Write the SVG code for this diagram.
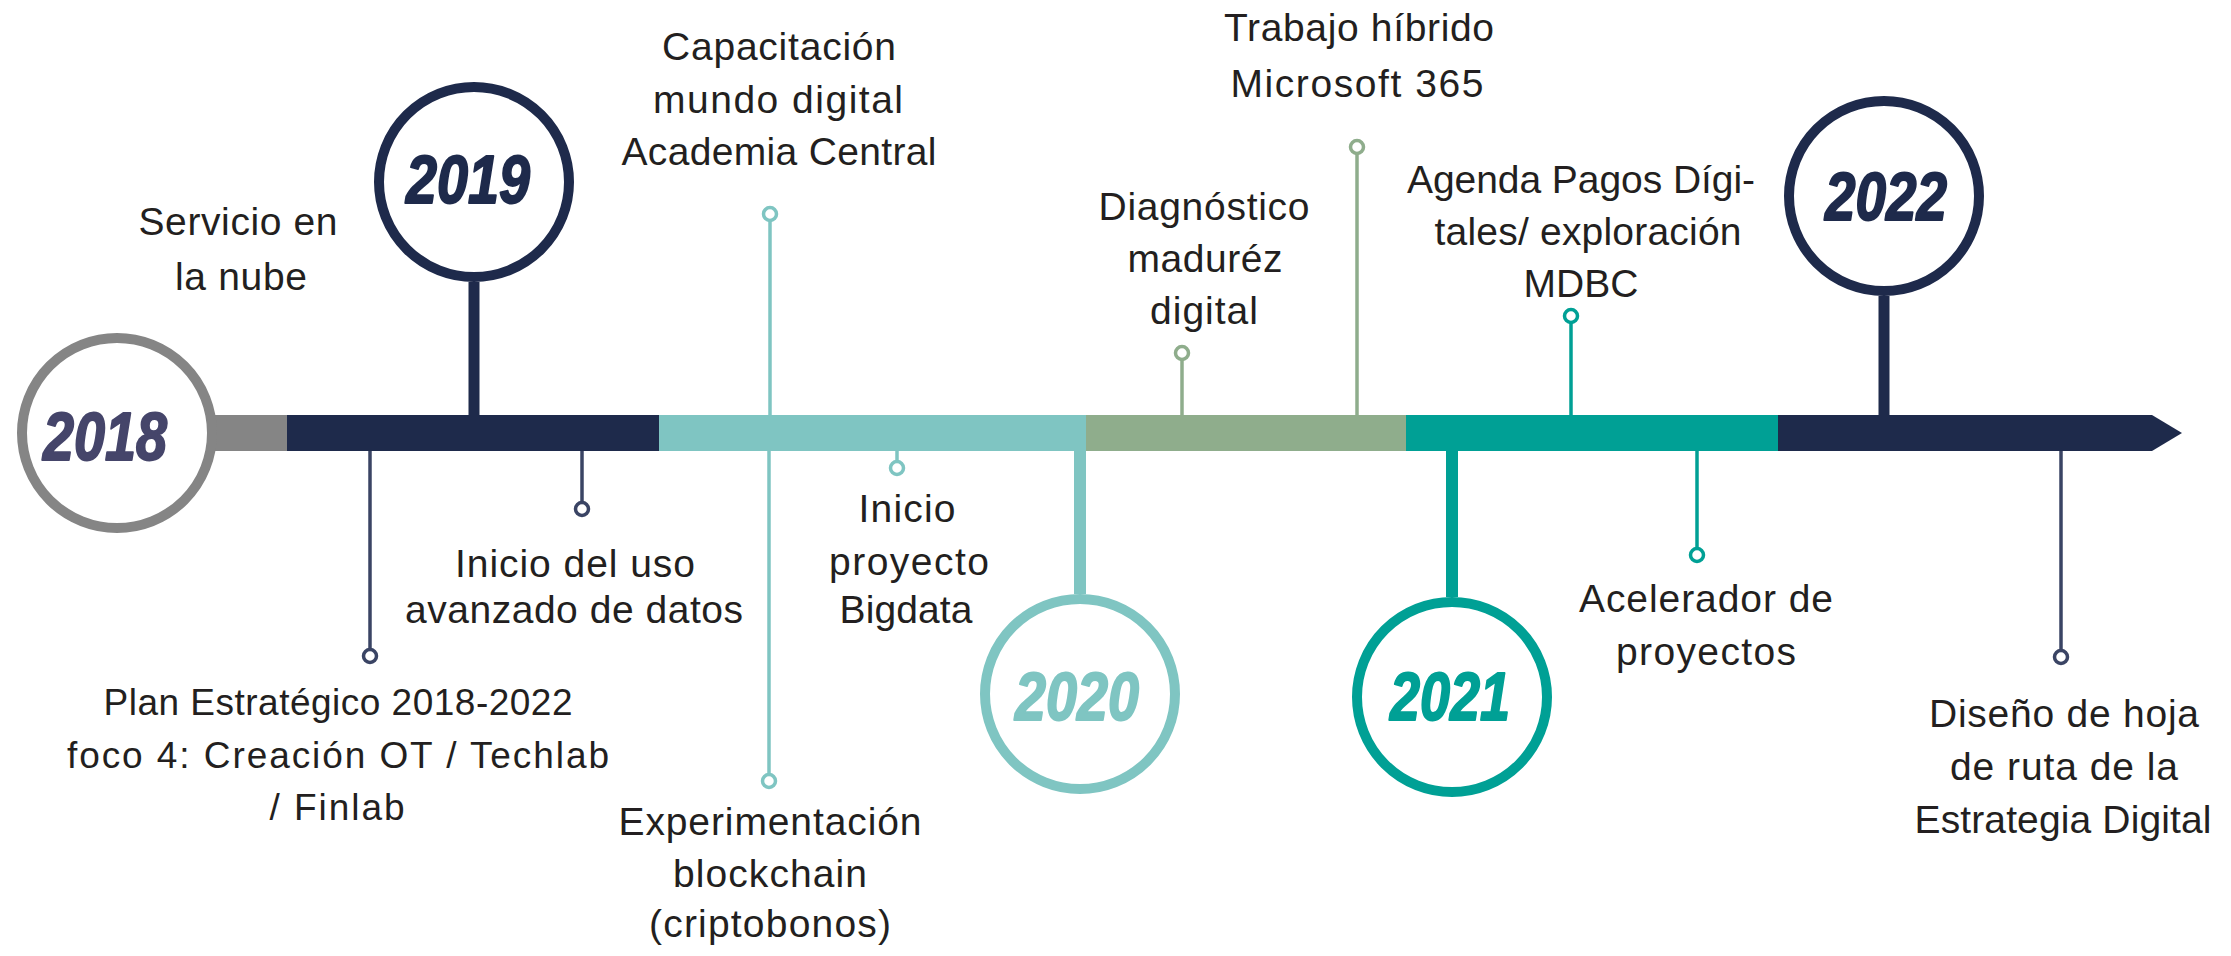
<svg xmlns="http://www.w3.org/2000/svg" width="2231" height="956" viewBox="0 0 2231 956">
<style>
.lbl{font-family:"Liberation Sans",Arial,sans-serif;font-size:39px;fill:#231f20;text-anchor:middle}
.sm{font-size:37px}
.yr{font-family:"Liberation Sans",Arial,sans-serif;font-size:68px;font-weight:bold;font-style:italic;text-anchor:middle;stroke-width:2;stroke-linejoin:round}
.ring{fill:#fff;stroke-width:10}
.dot{fill:#fff;stroke-width:3.5}
.ln{stroke-width:3.5;fill:none}
.navyS{stroke:#3a4464}
.ltS{stroke:#7fc5c2}
.sgS{stroke:#8fad8c}
.tlS{stroke:#00a095}
</style>
<rect width="2231" height="956" fill="#fff"/>
<g id="timeline-bar">
<rect x="200" y="415" width="88" height="36" fill="#858585"/>
<rect x="287" y="415" width="373" height="36" fill="#1e2a4b"/>
<rect x="659" y="415" width="428" height="36" fill="#7fc5c2"/>
<rect x="1086" y="415" width="321" height="36" fill="#8fad8c"/>
<rect x="1406" y="415" width="373" height="36" fill="#00a095"/>
<polygon points="1778,415 2152,415 2182,433 2152,451 1778,451" fill="#1e2a4b"/>
</g>
<g id="connectors">
<line class="ln navyS" x1="370" y1="451" x2="370" y2="650"/>
<line class="ln navyS" x1="582" y1="451" x2="582" y2="503"/>
<line class="ln ltS" x1="770" y1="415" x2="770" y2="220"/>
<line class="ln ltS" x1="769" y1="451" x2="769" y2="775"/>
<line class="ln ltS" x1="897" y1="451" x2="897" y2="462"/>
<line class="ln sgS" x1="1182" y1="415" x2="1182" y2="359"/>
<line class="ln sgS" x1="1357" y1="415" x2="1357" y2="153"/>
<line class="ln tlS" x1="1571" y1="415" x2="1571" y2="322"/>
<line class="ln tlS" x1="1697" y1="451" x2="1697" y2="549"/>
<line class="ln navyS" x1="2061" y1="451" x2="2061" y2="651"/>
<line x1="474" y1="282" x2="474" y2="416" stroke="#1e2a4b" stroke-width="11"/>
<line x1="1884" y1="296" x2="1884" y2="416" stroke="#1e2a4b" stroke-width="11"/>
<line x1="1080" y1="450" x2="1080" y2="594" stroke="#7fc5c2" stroke-width="12"/>
<line x1="1452" y1="450" x2="1452" y2="597" stroke="#00a095" stroke-width="12"/>
</g>
<g id="y2018">
<circle class="ring" cx="117" cy="433" r="95" stroke="#858585"/>
<text class="yr" x="105" y="460" fill="#45456a" stroke="#45456a" textLength="124" lengthAdjust="spacingAndGlyphs">2018</text>
</g>
<g id="y2019">
<circle class="ring" cx="474" cy="182" r="95" stroke="#1e2a4b"/>
<text class="yr" x="468" y="203" fill="#1e2a4b" stroke="#1e2a4b" textLength="124" lengthAdjust="spacingAndGlyphs">2019</text>
</g>
<g id="y2020">
<circle class="ring" cx="1080" cy="694" r="95" stroke="#7fc5c2"/>
<text class="yr" x="1077" y="720" fill="#7fc5c2" stroke="#7fc5c2" textLength="124" lengthAdjust="spacingAndGlyphs">2020</text>
</g>
<g id="y2021">
<circle class="ring" cx="1452" cy="697" r="95" stroke="#00a095"/>
<text class="yr" x="1450" y="720" fill="#00a095" stroke="#00a095" textLength="120" lengthAdjust="spacingAndGlyphs">2021</text>
</g>
<g id="y2022">
<circle class="ring" cx="1884" cy="196" r="95" stroke="#1e2a4b"/>
<text class="yr" x="1886" y="220" fill="#1e2a4b" stroke="#1e2a4b" textLength="122" lengthAdjust="spacingAndGlyphs">2022</text>
</g>
<g id="ev-servicio">
<text class="lbl" x="238" y="235" textLength="199">Servicio en</text>
<text class="lbl" x="241" y="290" textLength="132">la nube</text>
</g>
<g id="ev-plan">
<circle class="dot navyS" cx="370" cy="656" r="6.5"/>
<text class="lbl sm" x="338" y="715" textLength="469">Plan Estratégico 2018-2022</text>
<text class="lbl sm" x="338" y="768" textLength="542">foco 4: Creación OT / Techlab</text>
<text class="lbl sm" x="337" y="820" textLength="135">/ Finlab</text>
</g>
<g id="ev-datos">
<circle class="dot navyS" cx="582" cy="509" r="6.5"/>
<text class="lbl" x="575" y="577" textLength="240">Inicio del uso</text>
<text class="lbl" x="574" y="623" textLength="338">avanzado de datos</text>
</g>
<g id="ev-capacitacion">
<circle class="dot ltS" cx="770" cy="214" r="6.5"/>
<text class="lbl" x="779" y="60" textLength="234">Capacitación</text>
<text class="lbl" x="778" y="113" textLength="250">mundo digital</text>
<text class="lbl" x="779" y="165" textLength="315">Academia Central</text>
</g>
<g id="ev-blockchain">
<circle class="dot ltS" cx="769" cy="781" r="6.5"/>
<text class="lbl" x="770" y="835" textLength="303">Experimentación</text>
<text class="lbl" x="770" y="887" textLength="194">blockchain</text>
<text class="lbl" x="770" y="937" textLength="242">(criptobonos)</text>
</g>
<g id="ev-bigdata">
<circle class="dot ltS" cx="897" cy="468" r="6.5"/>
<text class="lbl" x="907" y="522" textLength="97">Inicio</text>
<text class="lbl" x="909" y="575" textLength="160">proyecto</text>
<text class="lbl" x="906" y="623" textLength="133">Bigdata</text>
</g>
<g id="ev-diagnostico">
<circle class="dot sgS" cx="1182" cy="353" r="6.5"/>
<text class="lbl" x="1204" y="220" textLength="211">Diagnóstico</text>
<text class="lbl" x="1205" y="272" textLength="155">maduréz</text>
<text class="lbl" x="1204" y="324" textLength="108">digital</text>
</g>
<g id="ev-trabajo">
<circle class="dot sgS" cx="1357" cy="147" r="6.5"/>
<text class="lbl" x="1359" y="41" textLength="270">Trabajo híbrido</text>
<text class="lbl" x="1357" y="97" textLength="253">Microsoft 365</text>
</g>
<g id="ev-agenda">
<circle class="dot tlS" cx="1571" cy="316" r="6.5"/>
<text class="lbl" x="1581" y="193" textLength="348">Agenda Pagos Dígi-</text>
<text class="lbl" x="1588" y="245" textLength="307">tales/ exploración</text>
<text class="lbl" x="1581" y="297" textLength="115">MDBC</text>
</g>
<g id="ev-acelerador">
<circle class="dot tlS" cx="1697" cy="555" r="6.5"/>
<text class="lbl" x="1706" y="612" textLength="254">Acelerador de</text>
<text class="lbl" x="1706" y="665" textLength="180">proyectos</text>
</g>
<g id="ev-diseno">
<circle class="dot navyS" cx="2061" cy="657" r="6.5"/>
<text class="lbl" x="2064" y="727" textLength="270">Diseño de hoja</text>
<text class="lbl" x="2064" y="780" textLength="228">de ruta de la</text>
<text class="lbl" x="2063" y="833" textLength="297">Estrategia Digital</text>
</g>
</svg>
